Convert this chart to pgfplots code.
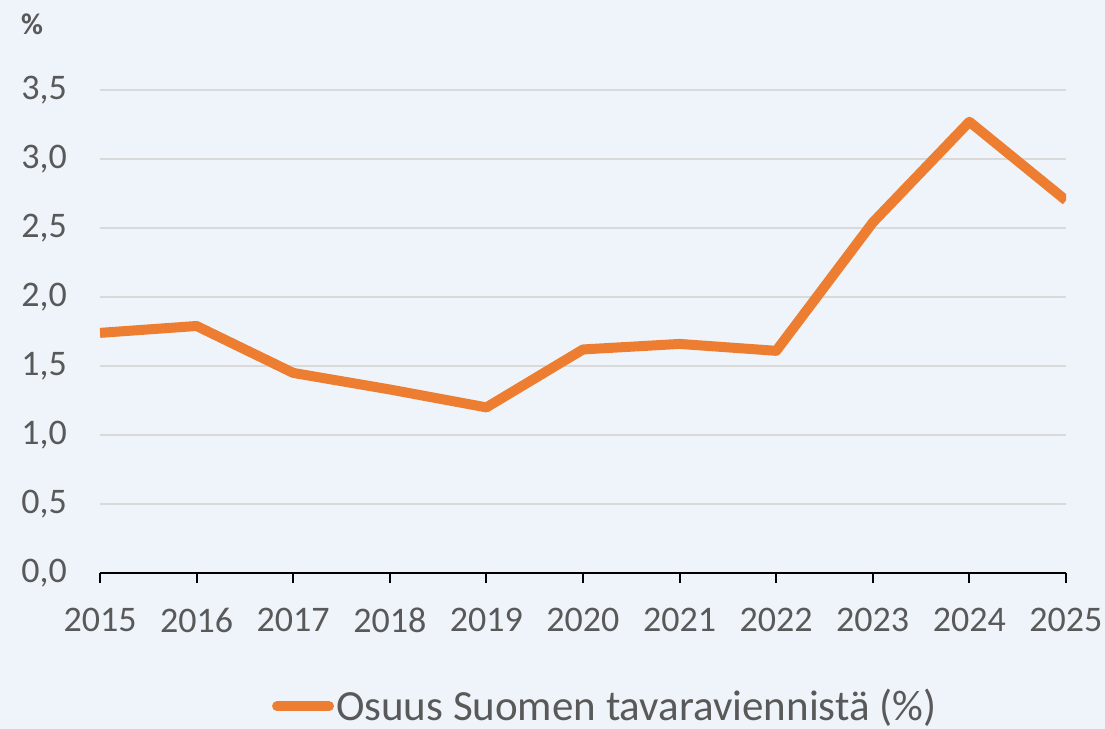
\documentclass[border=0pt]{standalone}
\usepackage{pgfplots}
\pgfplotsset{compat=1.18}
\usepackage{fontspec}
\setmainfont{Carlito}
\definecolor{bg}{HTML}{EEF4F9}
\definecolor{txt}{HTML}{595959}
\definecolor{grd}{HTML}{D9D9D9}
\definecolor{org}{HTML}{ED7D31}
\pgfplotstableread{
year val
2015 1.74
2016 1.79
2017 1.45
2018 1.33
2019 1.20
2020 1.62
2021 1.66
2022 1.61
2023 2.54
2024 3.27
2025 2.70
}\datatable
\begin{document}
\begin{tikzpicture}
\useasboundingbox (-50pt,-78pt) rectangle (502.5pt,286.5pt);
\fill[bg] (-50pt,-78pt) rectangle (502.5pt,286.5pt);
\begin{axis}[
  at={(0,0)}, anchor=south west,
  scale only axis, width=483pt, height=241.5pt,
  xmin=2015, xmax=2025, ymin=0, ymax=3.5,
  xtick={2015,...,2025}, ytick={0,0.5,...,3.5},
  axis x line*=bottom, axis y line*=left,
  x axis line style={black, line width=1pt, -},
  y axis line style={draw=none},
  ytick style={draw=none},
  xtick style={black, line width=1pt},
  tick align=outside, major tick length=5pt,
  ymajorgrids, grid style={grd, line width=1pt},
  /pgf/number format/assume math mode=true,
  tick label style={font=\fontsize{18}{21}\selectfont, text=txt},
  yticklabel style={/pgf/number format/.cd, fixed, fixed zerofill, precision=1, use comma, /tikz/.cd, xshift=-8pt},
  xticklabel style={/pgf/number format/.cd, 1000 sep={}, /tikz/.cd, yshift=-9pt},
  legend style={at={(0.523,-0.276)}, anchor=center, draw=none, fill=none,
    font=\fontsize{21.5}{25}\selectfont, text=txt, inner sep=0pt,
    nodes={inner sep=1pt}},
  legend image code/.code={\draw[org, line width=5pt, line cap=round] (0pt,0pt) -- (26pt,0pt);},
  legend cell align=left,
]
\addplot[org, line width=5pt, line join=round] table[x=year, y=val] {\datatable};
\addlegendentry{Osuus Suomen tavaraviennistä (\%)}
\end{axis}
\node[text=txt, font=\fontsize{15}{18}\selectfont\bfseries] at (-34pt,274.5pt) {\%};
\end{tikzpicture}
\end{document}
